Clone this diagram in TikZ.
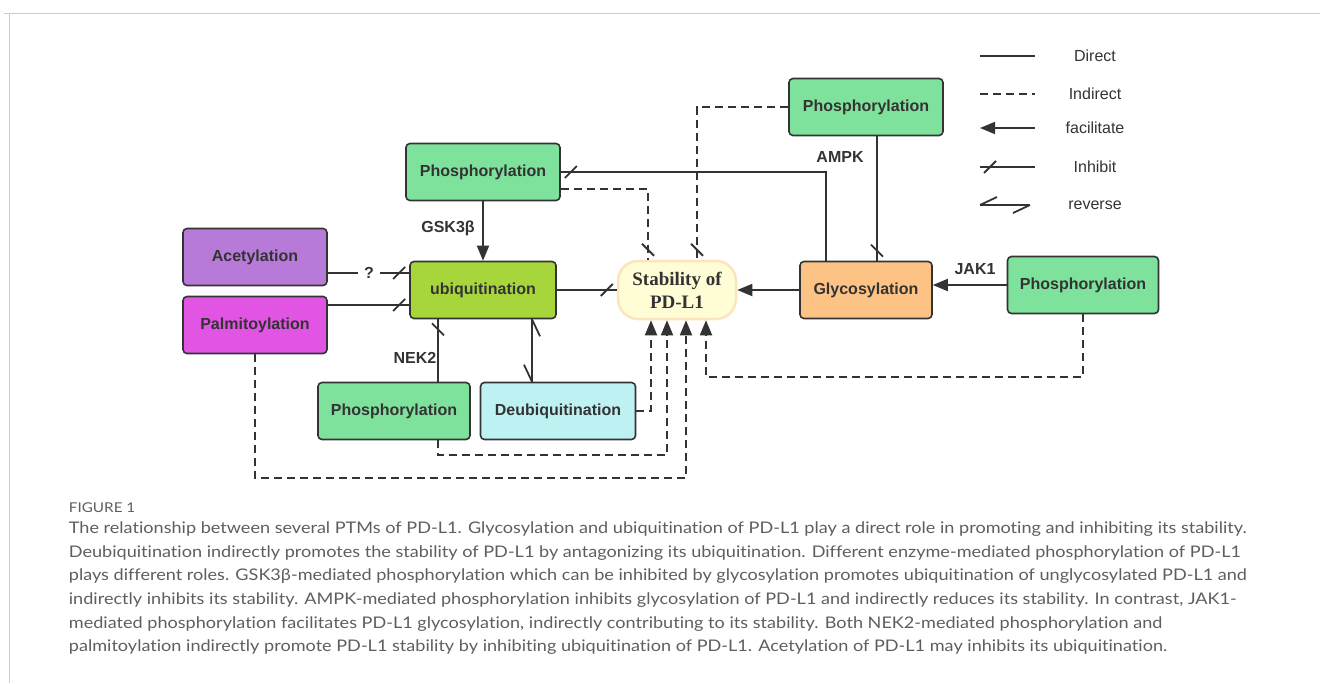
\documentclass[tikz,border=0pt]{standalone}
\usepackage{fontspec}
\setmainfont{Liberation Sans}
\newfontfamily\capfont{Lato}[FakeStretch=1.13,Ligatures=NoCommon]
\newfontfamily\stabfont{Liberation Serif}
\usepackage{tikz}
\usetikzlibrary{positioning,arrows.meta,decorations.markings}

\definecolor{phos}{HTML}{7FE29C}
\definecolor{ubi}{HTML}{A6D63C}
\definecolor{acet}{HTML}{B87AD8}
\definecolor{palm}{HTML}{E254E4}
\definecolor{glyc}{HTML}{FDC385}
\definecolor{deub}{HTML}{BDF1F2}
\definecolor{stabfill}{HTML}{FFFDD6}
\definecolor{stabline}{HTML}{FCE4BC}
\definecolor{ink}{HTML}{333333}
\definecolor{capgray}{HTML}{5E5E5E}

\begin{document}
\begin{tikzpicture}[x=1pt,y=-1pt,color=ink,line width=1.8pt,
  ptm/.style={
    draw=ink,
    line width=1.6pt,
    rounded corners=4pt,
    minimum width=154pt,
    minimum height=57pt,
    inner sep=0pt,
    font=\bfseries\fontsize{16}{19}\selectfont
  },
  stab/.style={
    draw=stabline,
    fill=stabfill,
    line width=2.5pt,
    rounded corners=20pt,
    minimum width=118pt,
    minimum height=58pt,
    inner sep=0pt,
    align=center,
    font=\stabfont\bfseries\fontsize{19}{23}\selectfont
  },
  lab/.style={font=\bfseries\fontsize{16}{19}\selectfont},
  lgd/.style={font=\fontsize{16}{19}\selectfont},
  ind/.style={dash pattern=on 8pt off 5pt},
  fac/.style={-{Triangle[length=15pt,width=12pt]}},
  inh/.style={postaction={decorate,decoration={markings,
    mark=at position -10pt with {\draw[solid] (-6pt,-6pt) -- (6pt,6pt);}}}},
  rev/.style={postaction={decorate,decoration={markings,
    mark=at position 0 with {\draw[solid] (0pt,0pt) -- (17pt,8pt);},
    mark=at position 1 with {\draw[solid] (0pt,0pt) -- (-17pt,-8pt);}}}}
  ]
  \useasboundingbox (0,0) rectangle (1320,683);
  % frame
  \draw[gray!40,line width=1pt] (4,13) -- (1320,13);
  \draw[gray!40,line width=1pt] (9,13) -- (9,683);

  % boxes
  \node[ptm,fill=phos] (phA) at (866,107) {Phosphorylation};
  \node[ptm,fill=phos] (phG) at (483,172) {Phosphorylation};
  \node[ptm,fill=ubi,minimum width=146pt] (ubi) at (483,290) {ubiquitination};
  \node[ptm,fill=acet,minimum width=144pt] (acet) at (255,257) {Acetylation};
  \node[ptm,fill=palm,minimum width=144pt] (palm) at (255,325) {Palmitoylation};
  \node[stab] (stab) at (677,290) {Stability of\\PD-L1};
  \node[ptm,fill=glyc,minimum width=132pt] (glyc) at (866,290) {Glycosylation};
  \node[ptm,fill=phos,minimum width=151pt] (phJ) at (1083,285) {Phosphorylation};
  \node[ptm,fill=phos,minimum width=152pt] (phN) at (394,411) {Phosphorylation};
  \node[ptm,fill=deub,minimum width=155pt] (deub) at (558,411) {Deubiquitination};

  % enzyme labels
  \node[lab] (gsk) at (448,228) {GSK3β};
  \node[lab] (ampk) at (840,157) {AMPK};
  \node[lab] (jak) at (975,269) {JAK1};
  \node[lab] (nek) at (415,358) {NEK2};
  \node[lab,inner sep=5pt] (qm) at (369,273) {?};

  % direct links
  \draw[fac] (phG) -- (ubi);
  \draw[inh] ([xshift=-40pt]glyc.north) |- (phG.east);
  \draw[inh] ([xshift=11pt]phA.south) -- ([xshift=11pt]glyc.north);
  \draw ([yshift=-16pt]acet.east) -- (qm);
  \draw[inh] (qm) -- (qm -| ubi.west);
  \coordinate (pa) at ([yshift=20pt]palm.east);
  \draw[inh] (pa) -- (pa -| ubi.west);
  \draw[inh] (ubi) -- (stab);
  \draw[fac] (glyc) -- (stab);
  \draw[fac] (phJ) -- (phJ -| glyc.east);
  \coordinate (nk) at ([xshift=44pt]phN.north);
  \draw[inh] (nk) -- (nk |- ubi.south);
  \coordinate (dq) at ([xshift=49pt]ubi.south);
  \draw[rev] (dq) -- (dq |- deub.north);

  % indirect links
  \draw[ind,inh] ([yshift=-17pt]phG.east) -| ([xshift=-29pt]stab.north);
  \draw[ind,inh] (phA.west) -| ([xshift=20pt]stab.north);
  \draw[ind,fac] (phJ) -- ++(0,92) -| ([xshift=29pt]stab.south);
  \draw[ind,fac] (deub) -| ([xshift=-26pt]stab.south);
  \draw[ind,fac] ([xshift=44pt]phN.south) -- ++(0,15) -| ([xshift=-10pt]stab.south);
  \draw[ind,fac] (palm.south) -- ++(0,124) -| ([xshift=9pt]stab.south);

  % legend
  \node[lgd] (lgD) at (1095,56) {Direct};
  \node[lgd] (lgI) at (1095,94) {Indirect};
  \node[lgd] (lgF) at (1095,128) {facilitate};
  \node[lgd] (lgH) at (1095,167) {Inhibit};
  \node[lgd] (lgR) at (1095,205) {reverse};
  \draw ([xshift=-115pt]lgD.center) -- ([xshift=-60pt]lgD.center);
  \draw[ind] ([xshift=-115pt]lgI.center) -- ([xshift=-60pt]lgI.center);
  \draw[fac] ([xshift=-60pt]lgF.center) -- ([xshift=-115pt]lgF.center);
  \draw[inh] ([xshift=-60pt]lgH.center) -- ([xshift=-115pt]lgH.center);
  \draw[rev] ([xshift=-115pt]lgR.center) -- ([xshift=-65pt]lgR.center);

  % caption
  \node[anchor=west,inner sep=0pt,text=capgray,font=\capfont\fontsize{13.5}{15}\selectfont] (fig) at (68,508) {FIGURE 1};
  \node[anchor=north west,inner sep=0pt,align=left,text=capgray,
    font=\capfont\fontsize{16}{23.6}\selectfont] (cap) at (68,521)
    {The relationship between several PTMs of PD-L1. Glycosylation and ubiquitination of PD-L1 play a direct role in promoting and inhibiting its stability.\\
     Deubiquitination indirectly promotes the stability of PD-L1 by antagonizing its ubiquitination. Different enzyme-mediated phosphorylation of PD-L1\\
     plays different roles. GSK3β-mediated phosphorylation which can be inhibited by glycosylation promotes ubiquitination of unglycosylated PD-L1 and\\
     indirectly inhibits its stability. AMPK-mediated phosphorylation inhibits glycosylation of PD-L1 and indirectly reduces its stability. In contrast, JAK1-\\
     mediated phosphorylation facilitates PD-L1 glycosylation, indirectly contributing to its stability. Both NEK2-mediated phosphorylation and\\
     palmitoylation indirectly promote PD-L1 stability by inhibiting ubiquitination of PD-L1. Acetylation of PD-L1 may inhibits its ubiquitination.};
\end{tikzpicture}
\end{document}
